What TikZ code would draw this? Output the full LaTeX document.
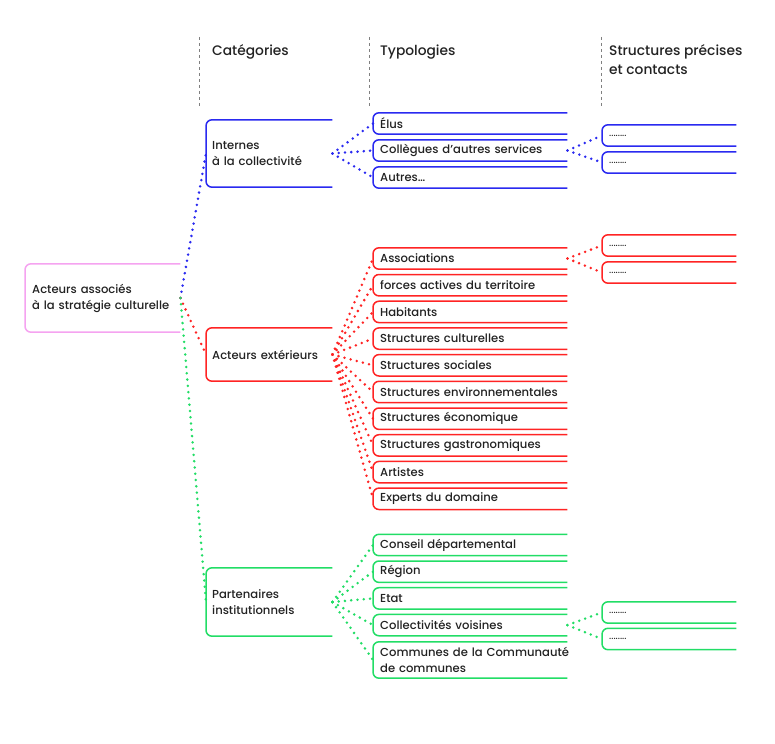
\documentclass[tikz,border=0pt]{standalone}
\usepackage{fontspec}
\setmainfont{Poppins}[UprightFont=* Medium]
\definecolor{rootpink}{HTML}{F5A3F0}
\definecolor{intblue}{HTML}{2A2AF0}
\definecolor{extred}{HTML}{FF2424}
\definecolor{partgreen}{HTML}{22DD66}
\definecolor{inkgray}{HTML}{222222}
\tikzset{
  branch/.style={draw=none, anchor=west, inner xsep=7pt, inner ysep=0pt, align=left,
    text=inkgray, font=\fontsize{11.6}{16}\selectfont},
  catbox/.style={branch, text width=114pt, inner xsep=6pt},
  typbox/.style={branch, text width=180pt, minimum height=21pt},
  ctcbox/.style={branch, text width=120pt, minimum height=21pt},
  link/.style={line width=2.8pt, line cap=round, dash pattern=on 0pt off 6.3pt},
  colhead/.style={anchor=west, align=left, inner sep=0pt, text=inkgray,
    font=\fontsize{13.8}{19}\selectfont},
  colrule/.style={draw=gray, dashed, line width=0.6pt}
}
\newcommand{\openbox}[2]{%
  \draw[#2, line width=1.5pt, rounded corners=6pt]
    (#1.north east) -- (#1.north west) -- (#1.south west) -- (#1.south east);}
\begin{document}
\begin{tikzpicture}[x=1pt, y=-1pt]
\useasboundingbox (0,0) rectangle (775,743);
% column headers
\node[colhead] (hcat) at (212,52) {Catégories};
\node[colhead] (htyp) at (380,52) {Typologies};
\node[colhead, anchor=north west] (hctc) at (609,44) {Structures précises\\et contacts};
\draw[colrule] (199,37) -- (199,107);
\draw[colrule] (369,37) -- (369,107);
\draw[colrule] (601,37) -- (601,107);
% root
\node[branch, text width=141pt, minimum height=68pt] (acteurs) at (25,298)
  {Acteurs associés\\à la stratégie culturelle};
\openbox{acteurs}{rootpink}
% categories
\node[catbox, minimum height=67pt] (internes) at (206,153.5) {Internes\\à la collectivité};
\node[catbox, minimum height=53pt] (exterieurs) at (206,354.5) {Acteurs extérieurs};
\node[catbox, minimum height=68pt] (partenaires) at (206,602) {Partenaires\\institutionnels};
\openbox{internes}{intblue}
\openbox{exterieurs}{extred}
\openbox{partenaires}{partgreen}
\draw[link, intblue] (acteurs.east) -- (internes.west);
\draw[link, extred] (acteurs.east) -- (exterieurs.west);
\draw[link, partgreen] (acteurs.east) -- (partenaires.west);
% typologies
\foreach \name/\y/\txt in {elus/123.5/Élus, collegues/150.5/Collègues d’autres services,
    autres/177.5/Autres…} {
  \node[typbox] (\name) at (373,\y) {\mbox{\txt}};
  \openbox{\name}{intblue}
  \draw[link, intblue] (internes.east) -- (\name.west);
}
\foreach \name/\y/\txt in {associations/258.5/Associations,
    forces/285.2/forces actives du territoire, habitants/311.9/Habitants,
    culturelles/338.6/Structures culturelles, sociales/365.3/Structures sociales,
    environnement/392/Structures environnementales,
    economique/418.7/Structures économique,
    gastronomie/445.4/Structures gastronomiques, artistes/472.1/Artistes,
    experts/498.8/Experts du domaine} {
  \node[typbox] (\name) at (373,\y) {\mbox{\txt}};
  \openbox{\name}{extred}
  \draw[link, extred] (exterieurs.east) -- (\name.west);
}
\foreach \name/\y/\txt in {conseil/545/Conseil départemental, region/571.7/Région,
    etat/598.4/Etat, voisines/625.1/Collectivités voisines} {
  \node[typbox] (\name) at (373,\y) {\mbox{\txt}};
  \openbox{\name}{partgreen}
  \draw[link, partgreen] (partenaires.east) -- (\name.west);
}
\node[typbox, minimum height=36pt] (communes) at (373,660)
  {\mbox{Communes de la Communauté}\\de communes};
\openbox{communes}{partgreen}
\draw[link, partgreen] (partenaires.east) -- (communes.west);
% structures precises et contacts
\foreach \name/\y/\from/\col in {ctcA/135.5/collegues/intblue, ctcB/162.5/collegues/intblue,
    ctcC/245.5/associations/extred, ctcD/272.5/associations/extred,
    ctcE/612.5/voisines/partgreen, ctcF/639/voisines/partgreen} {
  \node[ctcbox] (\name) at (602,\y) {\fontsize{9}{10}\selectfont ........};
  \openbox{\name}{\col}
  \draw[link, \col] (\from.east) -- (\name.west);
}
\end{tikzpicture}
\end{document}
